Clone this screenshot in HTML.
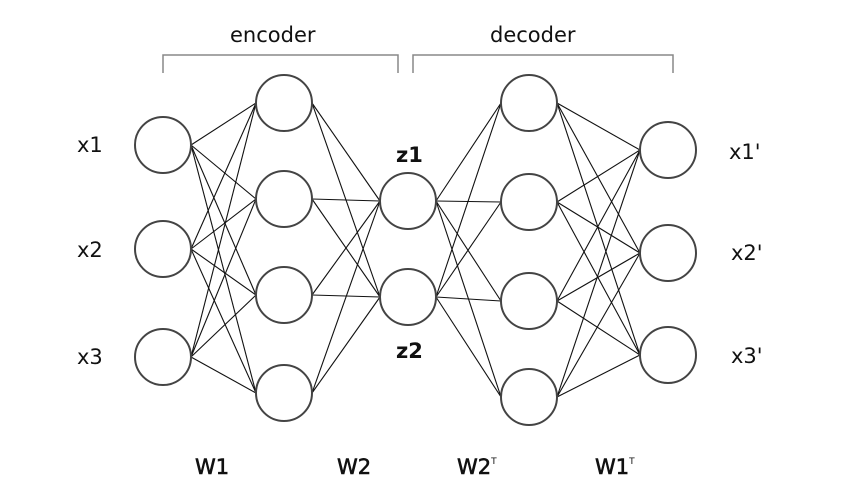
<!DOCTYPE html>
<html><head><meta charset="utf-8"><style>
html,body{margin:0;padding:0;background:#fff;}
svg{display:block;}
text{font-family:"DejaVu Sans","Liberation Sans",sans-serif;font-size:21px;fill:#111;}
.w{stroke:#111;stroke-width:0.6;}
</style></head><body>
<svg id="s" width="850" height="502" xmlns="http://www.w3.org/2000/svg">
<g stroke="#888" stroke-width="1.5" fill="none">
<polyline points="163,73 163,55 398,55 398,73"/>
<polyline points="413,73 413,55 673,55 673,73"/>
</g>
<g id="lines" stroke="#111" stroke-width="1.1"></g>
<g id="nodes" stroke="#444" stroke-width="2" fill="#fff"></g>
<text x="230" y="42">encoder</text>
<text x="490" y="42">decoder</text>
<text x="77" y="152">x1</text>
<text x="77" y="257">x2</text>
<text x="77" y="364">x3</text>
<text x="396" y="162" style="font-weight:bold">z1</text>
<text x="396" y="358" style="font-weight:bold">z2</text>
<text x="729" y="159">x1'</text>
<text x="731" y="260">x2'</text>
<text x="731" y="363">x3'</text>
<text x="195" y="474" class="w">W1</text>
<text x="337" y="474" class="w">W2</text>
<text x="457" y="474" class="w">W2<tspan dy="-10" style="font-size:9px;stroke-width:0">T</tspan></text>
<text x="595" y="474" class="w">W1<tspan dy="-10" style="font-size:9px;stroke-width:0">T</tspan></text>
</svg>
<script>
var L=[[163,[145,249,357]],[284,[103,199,295,393]],[408,[201,297]],[529,[103,202,301,397]],[668,[150,253,355]]];
var r=28,ns="http://www.w3.org/2000/svg";
var lg=document.getElementById('lines'),ng=document.getElementById('nodes');
for(var i=0;i<L.length-1;i++){var a=L[i],b=L[i+1];
a[1].forEach(function(y1){b[1].forEach(function(y2){
var l=document.createElementNS(ns,'line');l.setAttribute('x1',a[0]+r);l.setAttribute('y1',y1);
l.setAttribute('x2',b[0]-r);l.setAttribute('y2',y2);lg.appendChild(l);});});}
L.forEach(function(c){c[1].forEach(function(y){var e=document.createElementNS(ns,'circle');
e.setAttribute('cx',c[0]);e.setAttribute('cy',y);e.setAttribute('r',r);ng.appendChild(e);});});
</script>
</body></html>
